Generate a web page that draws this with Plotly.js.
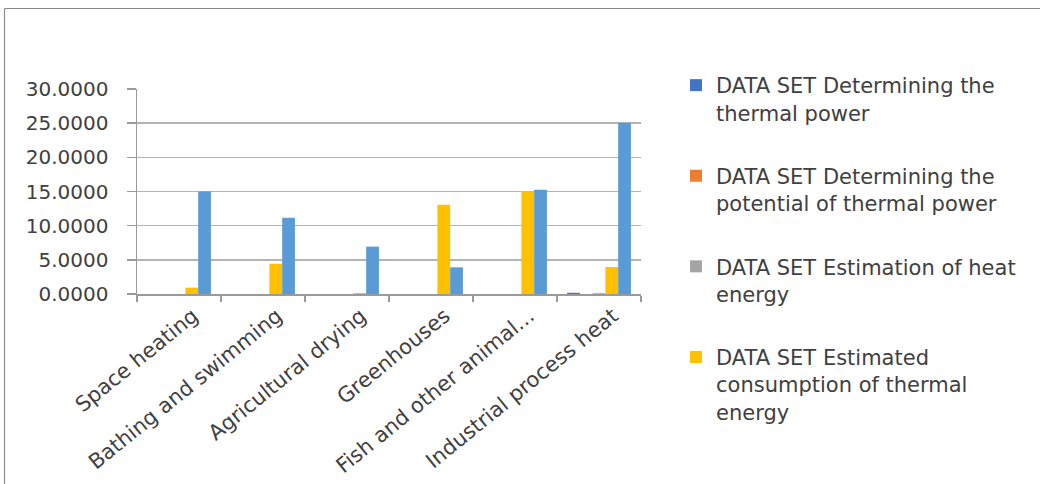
<!DOCTYPE html>
<html>
<head>
<meta charset="utf-8">
<script src="https://cdn.plot.ly/plotly-3.0.1.min.js"></script>
<style>
  html, body { margin: 0; padding: 0; background: #ffffff; }
  #chart { width: 1040px; height: 484px; }
</style>
</head>
<body>
<div id="chart"></div>
<script>
// Direct-use categories of geothermal heat
const categories = [
  "Space heating",
  "Bathing and swimming",
  "Agricultural drying",
  "Greenhouses",
  "Fish and other animal...",
  "Industrial process heat"
];

// Series values per category
const thermalPower      = [0, 0, 0, 0, 0, 0.18];
const thermalPotential  = [0, 0, 0, 0, 0, 0];
const heatEnergy        = [0, 0, 0, 0, 0, 0.12];
const thermalConsumption = [0.93, 4.43, 0.15, 13.05, 15.0, 3.95];
const capacityShare     = [15.0, 11.15, 6.93, 3.9, 15.25, 25.05];

const seriesNames = [
  "DATA SET Determining the<br>thermal power",
  "DATA SET Determining the<br>potential of thermal power",
  "DATA SET Estimation of heat<br>energy",
  "DATA SET Estimated<br>consumption of thermal<br>energy",
  "DATA SET Installed capacity"
];

const yTicks = [0, 5, 10, 15, 20, 25, 30];

const colors = ["#4472C4", "#ED7D31", "#A5A5A5", "#FFC000", "#5B9BD5"];
const seriesValues = [thermalPower, thermalPotential, heatEnergy, thermalConsumption, capacityShare];

const W = 1040, H = 484;
const M = { l: 137, r: 399, t: 89, b: 190 };
const plotW = W - M.l - M.r, plotH = H - M.t - M.b;
const px2x = px => (px - M.l) / plotW;
const px2y = py => (H - M.b - py) / plotH;

const traces = seriesValues.map((vals, i) => ({
  type: "bar",
  name: seriesNames[i],
  x: categories,
  y: vals,
  marker: { color: colors[i], line: { width: 0 } },
  legendgroup: "g" + i,
  showlegend: i < 4,
  hoverinfo: "x+y+name"
}));

const FONT = "DejaVu Sans, Verdana, sans-serif";
const TXT = "#404040";

const layout = {
  width: W,
  height: H,
  margin: M,
  paper_bgcolor: "#ffffff",
  plot_bgcolor: "#ffffff",
  barmode: "group",
  bargap: 0.24,
  bargroupgap: 0,
  font: { family: FONT, size: 20, color: TXT },
  xaxis: {
    type: "category",
    tickson: "boundaries",
    ticks: "outside",
    ticklen: 6,
    tickcolor: "#9a9a9a",
    tickwidth: 1.5,
    showline: true,
    linecolor: "#9a9a9a",
    linewidth: 1.5,
    showgrid: false,
    tickangle: -39,
    ticklabelshift: 14,
    tickfont: { family: FONT, size: 21, color: TXT },
    automargin: false
  },
  yaxis: {
    range: [0, 30],
    tickvals: yTicks,
    tickformat: ".4f",
    ticks: "outside",
    ticklen: 9,
    tickcolor: "#9a9a9a",
    tickwidth: 1.5,
    ticklabelstandoff: 14,
    showline: true,
    linecolor: "#9a9a9a",
    linewidth: 1.5,
    showgrid: true,
    gridcolor: "#b4b4b4",
    gridwidth: 1.5,
    zeroline: false,
    tickfont: { family: FONT, size: 20, color: TXT },
    automargin: false
  },
  legend: {
    x: px2x(676),
    y: px2y(65),
    xanchor: "left",
    yanchor: "top",
    valign: "top",
    maxheight: 470,
    tracegroupgap: 33,
    font: { family: FONT, size: 21, color: TXT },
    bgcolor: "rgba(0,0,0,0)",
    itemclick: false,
    itemdoubleclick: false
  },
  shapes: [
    { type: "line", xref: "paper", yref: "paper",
      x0: px2x(4.5), x1: px2x(4.5), y0: px2y(8.5), y1: px2y(H + 2),
      line: { color: "#8c8c8c", width: 1.2 } },
    { type: "line", xref: "paper", yref: "paper",
      x0: px2x(4.5), x1: px2x(W + 2), y0: px2y(8.5), y1: px2y(8.5),
      line: { color: "#8c8c8c", width: 1.2 } }
  ],
  showlegend: true
};

Plotly.newPlot("chart", traces, layout, { displayModeBar: false, staticPlot: true });
</script>
</body>
</html>
